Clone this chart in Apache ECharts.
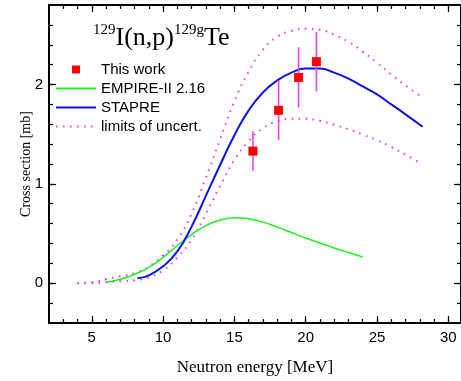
<!DOCTYPE html>
<html>
<head>
<meta charset="utf-8">
<script src="https://cdn.jsdelivr.net/npm/echarts@6/dist/echarts.min.js"></script>
<style>
html,body{margin:0;padding:0;background:#fff;}
#chart{width:461px;height:381px;}
</style>
</head>
<body>
<div id="chart"></div>
<script>
// ---- data ----
var expPoints = [[16.3, 1.33], [18.1, 1.74], [19.5, 2.07], [20.75, 2.23]];
var expErrors = [[16.3, 1.13, 1.53], [18.1, 1.44, 2.045], [19.5, 1.77, 2.375], [20.75, 1.93, 2.53]];
var empireData = [[6, 0.01], [7, 0.04], [8, 0.09], [9, 0.16], [10, 0.26], [11, 0.38], [12, 0.49], [13, 0.58], [14, 0.635], [15, 0.66], [16, 0.65], [17, 0.615], [18, 0.565], [19, 0.51], [20, 0.455], [21, 0.405], [22, 0.355], [23, 0.31], [24, 0.265]];
var stapreData = [[8.2, 0.05], [9, 0.08], [10, 0.17], [11, 0.32], [12, 0.57], [13, 0.88], [14, 1.19], [15, 1.49], [16, 1.74], [17, 1.92], [18, 2.04], [19, 2.12], [20, 2.16], [21, 2.16], [22, 2.12], [23, 2.06], [24, 1.98], [25, 1.9], [26, 1.8], [27, 1.7], [28.2, 1.575]];
var upperData = [[4, 0], [5, 0.01], [6, 0.04], [7, 0.07], [8, 0.1], [9, 0.17], [10, 0.28], [11, 0.44], [12, 0.7], [13, 1.06], [14, 1.45], [15, 1.83], [16, 2.13], [17, 2.35], [18, 2.48], [19, 2.54], [20, 2.56], [21, 2.55], [22, 2.5], [23, 2.43], [24, 2.33], [25, 2.22], [26, 2.1], [27, 1.99], [28, 1.89]];
var lowerData = [[4, 0], [5, 0], [6, 0.01], [7, 0.02], [8, 0.03], [9, 0.06], [10, 0.13], [11, 0.26], [12, 0.44], [13, 0.7], [14, 0.98], [15, 1.24], [16, 1.43], [17, 1.56], [18, 1.63], [19, 1.655], [20, 1.655], [21, 1.635], [22, 1.595], [23, 1.55], [24, 1.495], [25, 1.44], [26, 1.37], [27, 1.295], [28, 1.21]];
var xMajorTicks = [5, 10, 15, 20, 25, 30];
var xMinorTicks = [3, 4, 5, 6, 7, 8, 9, 10, 11, 12, 13, 14, 15, 16, 17, 18, 19, 20, 21, 22, 23, 24, 25, 26, 27, 28, 29, 30];
var yMajorTicks = [0, 1, 2];
var yMinorTicks = [-0.2, 0, 0.2, 0.4, 0.6, 0.8, 1, 1.2, 1.4, 1.6, 1.8, 2, 2.2, 2.4, 2.6];
var seriesNames = ['This work', 'EMPIRE-II 2.16', 'STAPRE', 'limits of uncert.'];

var X_MIN = 2, X_MAX = 30.89, Y_MIN = -0.4, Y_MAX = 2.8;
var sans = 'Liberation Sans, Arial, Helvetica, sans-serif';
var serif = 'Liberation Serif, Times New Roman, serif';

function xAx(pos, ticks, len, labels, line, extra) {
  var a = {
    type: 'value', position: pos, min: X_MIN, max: X_MAX,
    axisLine: {show: line, onZero: false, lineStyle: {color: '#000', width: 2}},
    axisTick: {show: true, inside: true, length: len, customValues: ticks, lineStyle: {color: '#000', width: 1.2}},
    axisLabel: labels ? {show: true, customValues: ticks, color: '#000', fontSize: 15, fontFamily: sans, margin: 7} : {show: false},
    splitLine: {show: false}
  };
  return Object.assign(a, extra || {});
}
function yAx(pos, ticks, len, labels, line, extra) {
  var a = {
    type: 'value', position: pos, min: Y_MIN, max: Y_MAX,
    axisLine: {show: line, onZero: false, lineStyle: {color: '#000', width: 2}},
    axisTick: {show: true, inside: true, length: len, customValues: ticks, lineStyle: {color: '#000', width: 1.2}},
    axisLabel: labels ? {show: true, customValues: ticks, color: '#000', fontSize: 15, fontFamily: sans, margin: 6} : {show: false},
    splitLine: {show: false}
  };
  return Object.assign(a, extra || {});
}

var chart = echarts.init(document.getElementById('chart'), null, {renderer: 'canvas'});
var option = {
  animation: false,
  backgroundColor: '#fff',
  grid: {left: 49, right: -2, top: 5, bottom: 58, containLabel: false},
  xAxis: [
    xAx('bottom', xMajorTicks, 7, true, true, {
      name: 'Neutron energy [MeV]', nameLocation: 'middle', nameGap: 36, nameMoveOverlap: false,
      nameTextStyle: {fontFamily: serif, fontSize: 17, color: '#000'}
    }),
    xAx('bottom', xMinorTicks, 4, false, false),
    xAx('top', xMajorTicks, 7, false, true),
    xAx('top', xMinorTicks, 4, false, false)
  ],
  yAxis: [
    yAx('left', yMajorTicks, 7, true, true, {
      name: 'Cross section [mb]', nameLocation: 'middle', nameGap: 16, nameMoveOverlap: false,
      nameTextStyle: {fontFamily: serif, fontSize: 14, color: '#000'}
    }),
    yAx('left', yMinorTicks, 4, false, false),
    yAx('right', yMajorTicks, 7, false, true),
    yAx('right', yMinorTicks, 4, false, false)
  ],
  legend: {
    orient: 'vertical', left: 55, top: 60, padding: 0, itemGap: 0,
    itemWidth: 40, itemHeight: 8,
    data: [
      {name: seriesNames[0], icon: 'path://M0,0L10,0L10,10L0,10Z', itemStyle: {opacity: 1}},
      {name: seriesNames[1], itemStyle: {opacity: 0}},
      {name: seriesNames[2], itemStyle: {opacity: 0}},
      {name: seriesNames[3], itemStyle: {opacity: 0}}
    ],
    textStyle: {fontFamily: sans, fontSize: 15, color: '#000', lineHeight: 19, padding: [0, 0, 0, 0]},
    selectedMode: false
  },
  graphic: [{
    type: 'text', left: 93, top: 23, z: 100,
    style: {
      text: '{sup|129}{main|I(n,p)}{sup|129g}{main|Te}',
      rich: {
        sup: {fontFamily: serif, fontSize: 15, verticalAlign: 'top', fill: '#000', lineHeight: 28},
        main: {fontFamily: serif, fontSize: 26, verticalAlign: 'bottom', fill: '#000', lineHeight: 28}
      }
    }
  }],
  series: [
    {
      name: seriesNames[1], type: 'line', data: empireData, smooth: 0.5, symbol: 'none',
      lineStyle: {color: '#22ee22', width: 1.5}, itemStyle: {color: '#22ee22'}, z: 3
    },
    {
      name: seriesNames[2], type: 'line', data: stapreData, smooth: 0.5, symbol: 'none',
      lineStyle: {color: '#0a14e6', width: 2}, itemStyle: {color: '#0a14e6'}, z: 4
    },
    {
      name: seriesNames[3], type: 'line', data: upperData, smooth: 0.5, symbol: 'none',
      lineStyle: {color: '#f040f0', width: 2, type: [1.6, 5.4]}, itemStyle: {color: '#f040f0'}, z: 2
    },
    {
      name: seriesNames[3], type: 'line', data: lowerData, smooth: 0.5, symbol: 'none',
      lineStyle: {color: '#f040f0', width: 2, type: [1.6, 5.4]}, itemStyle: {color: '#f040f0'}, z: 2
    },
    {
      name: 'errors', type: 'custom', data: expErrors, z: 5,
      renderItem: function (params, api) {
        var x = api.value(0);
        var p1 = api.coord([x, api.value(1)]);
        var p2 = api.coord([x, api.value(2)]);
        return {
          type: 'line',
          shape: {x1: p1[0], y1: p1[1], x2: p2[0], y2: p2[1]},
          style: {stroke: '#ee44ee', lineWidth: 1.6}
        };
      }
    },
    {
      name: seriesNames[0], type: 'scatter', data: expPoints, symbol: 'rect', symbolSize: 9,
      itemStyle: {color: '#ff0000', opacity: 1}, z: 6
    }
  ]
};
chart.setOption(option);
</script>
</body>
</html>
